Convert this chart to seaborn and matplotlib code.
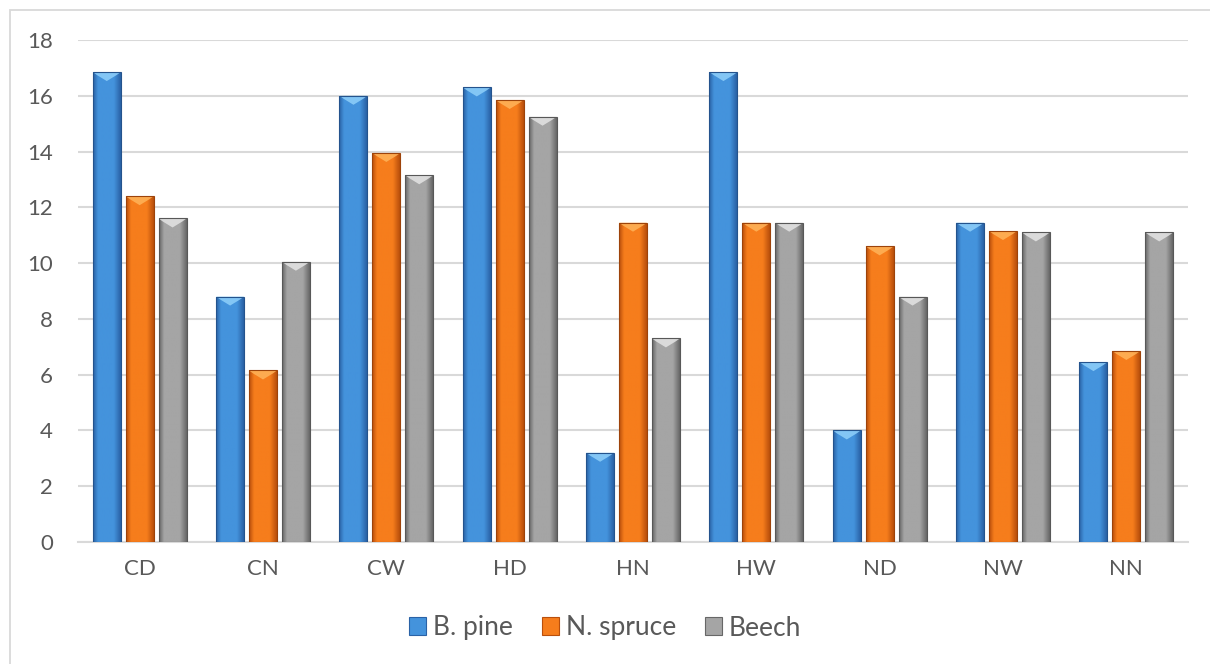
import numpy as np
import pandas as pd
import matplotlib
matplotlib.use("Agg")
import matplotlib.pyplot as plt
from matplotlib.patches import Patch, Polygon, Rectangle
from matplotlib.colors import to_rgb
import seaborn as sns

# Site codes and values per species
sites = ["CD", "CN", "CW", "HD", "HN", "HW", "ND", "NW", "NN"]
species = ["B. pine", "N. spruce", "Beech"]
b_pine = [16.85, 8.8, 16.0, 16.3, 3.2, 16.85, 4.0, 11.45, 6.45]
n_spruce = [12.4, 6.15, 13.95, 15.85, 11.45, 11.45, 10.6, 11.15, 6.85]
beech = [11.6, 10.05, 13.15, 15.25, 7.3, 11.45, 8.8, 11.1, 11.1]
y_ticks = [0, 2, 4, 6, 8, 10, 12, 14, 16, 18]

df = pd.DataFrame({
    "site": sites * 3,
    "species": [species[0]] * 9 + [species[1]] * 9 + [species[2]] * 9,
    "value": b_pine + n_spruce + beech,
})

# base, dark edge, light cap
styles = {
    "B. pine": ("#4493dc", "#2a62a6", "#8fd0fa"),
    "N. spruce": ("#f67d1c", "#b94f0c", "#ffb45a"),
    "Beech": ("#a5a5a5", "#676767", "#e4e4e4"),
}
palette = {k: v[0] for k, v in styles.items()}

sns.set_theme(style="white")
plt.rcParams["font.family"] = ["Lato", "DejaVu Sans"]
text_color = "#595959"
grid_color = "#d9d9d9"

fig = plt.figure(figsize=(12.10, 6.64), dpi=100)
ax = fig.add_axes([78 / 1210, 1 - 542 / 664, (1188 - 78) / 1210, (542 - 40) / 664])

sns.barplot(data=df, x="site", y="value", hue="species", palette=palette,
            order=sites, hue_order=species, width=0.8, gap=0.15,
            legend=False, ax=ax, zorder=3)

ax.set_ylim(0, 18)
ax.set_xlim(-0.5, len(sites) - 0.5)
ax.set_yticks(y_ticks)
ax.set_yticklabels([str(t) for t in y_ticks])
ax.yaxis.grid(True, color=grid_color, linewidth=1.5, zorder=0)
ax.set_axisbelow(True)
for s in ["top", "right", "left"]:
    ax.spines[s].set_visible(False)
ax.spines["bottom"].set_color(grid_color)
ax.spines["bottom"].set_linewidth(1.5)
ax.tick_params(axis="y", length=0, pad=18, labelsize=16, labelcolor=text_color)
ax.tick_params(axis="x", length=0, pad=12, labelsize=16, labelcolor=text_color)
ax.set_xlabel("")
ax.set_ylabel("")


def blend(c1, c2, t):
    a, b = np.array(to_rgb(c1)), np.array(to_rgb(c2))
    return a * (1 - t) + b * t


# Beveled gradient shading on every bar
px_per_unit = (542 - 40) / 18.0
bars = [p for p in ax.patches if p.get_height() > 0]
for bar in bars:
    fc = bar.get_facecolor()
    key = min(styles, key=lambda k: np.sum((np.array(to_rgb(styles[k][0])) - np.array(fc[:3])) ** 2))
    base, dark, light = styles[key]
    x0, w, h = bar.get_x(), bar.get_width(), bar.get_height()
    t = np.linspace(0, 1, 60)
    shade = np.clip(np.minimum(t / 0.18, (1 - t) / 0.25), 0, 1)
    cols = np.array([blend(dark, base, s) for s in shade])
    img = cols[np.newaxis, :, :]
    im = ax.imshow(img, extent=[x0, x0 + w, 0, h], aspect="auto",
                   interpolation="bilinear", zorder=3.5)
    im.set_clip_path(bar)
    bar.set_edgecolor(blend(dark, "#000000", 0.15))
    bar.set_linewidth(0.8)
    bar.set_zorder(4)
    bar.set_facecolor("none")
    d1 = 3.0 / px_per_unit
    d2 = 9.0 / px_per_unit
    cap = Polygon([(x0, h), (x0 + w, h), (x0 + w * 0.85, h - d1),
                   (x0 + w * 0.5, h - d2), (x0 + w * 0.15, h - d1)],
                  closed=True, facecolor=light, edgecolor="none",
                  alpha=0.85, zorder=3.8)
    ax.add_patch(cap)

ax.set_xlim(-0.5, len(sites) - 0.5)
ax.set_ylim(0, 18)

# Chart frame
fig.patches.append(Rectangle((10 / 1210, -0.1), 1.2, 1 - 10 / 664 + 0.1,
                             transform=fig.transFigure, fill=False,
                             edgecolor=grid_color, linewidth=1.3))

handles = [Patch(facecolor=styles[s][0], edgecolor=styles[s][1], linewidth=0.8, label=s)
           for s in species]
leg = fig.legend(handles=handles, loc="center", bbox_to_anchor=(0.5, 1 - 628 / 664),
                 ncol=3, frameon=False, fontsize=19, handlelength=0.65,
                 handleheight=0.65, handletextpad=0.25, columnspacing=1.1)
for txt in leg.get_texts():
    txt.set_color(text_color)

fig.savefig("out.png", dpi=100)
